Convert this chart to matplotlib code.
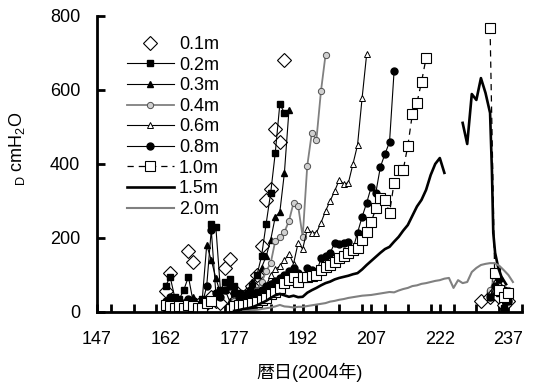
import numpy as np
import matplotlib
matplotlib.use('Agg')
import matplotlib.pyplot as plt
from matplotlib.ticker import MultipleLocator

nan = np.nan

# ---- data (day of year 2004, soil water potential cmH2O) ----
d_01 = [162, 163, 164, 165, 166, 167, 168, 169, 170, 172, 173, 174, 175, 176, 177, 178, 179, 180,
        181, 182, 183, 184, 185, 186, 187, 188, 231, 233, 234, 235, 236, 237]
v_01 = [57, 105, 30, 25, 15, 165, 135, 20, 10, 40, 30, 25, 119, 143, 60, 40, 30, 50,
        70, 100, 178, 303, 332, 495, 460, 681, 30, 40, 55, 40, 20, 30]

d_02 = [162, 163, 164, 165, 166, 167, 168, 169, 170, 171, 172, 173, 174, 175, 176, 177, 178, 179,
        180, 181, 182, 183, 184, 185, 186, 187, 188, 189, 233, 234, 235, 236, 237]
v_02 = [70, 95, 40, 35, 60, 95, 30, 20, 35, nan, 238, 230, 60, 80, 90, 70, 50, 40,
        50, 70, 100, 151, 238, 322, 430, 562, 538, nan, 50, 80, 60, 10, 30]

d_03 = [162, 163, 164, 165, 166, 167, 168, 169, 170, 171, 172, 173, 174, 175, 176, 177, 178, 179,
        180, 181, 182, 183, 184, 185, 186, 187, 188, 189, 190, 233, 234, 235, 236, 237]
v_03 = [20, 25, 15, 20, 10, 30, 40, 15, 30, 181, 140, 92, 50, 60, 30, 50, 40, 50,
        60, 80, 100, 120, 150, 195, 257, 270, 376, 546, nan, 40, 70, 50, 20, 40]

d_04 = [162, 163, 164, 165, 166, 167, 168, 169, 170, 171] + list(range(177, 199)) + [233, 234, 235, 236, 237]
v_04 = [15, 20, 10, 15, 10, 20, 15, 10, 15, nan,
        30, 35, 40, 45, 50, 60, 80, 110, 132, 192, 203, 216, 246, 295, 287, 203, 395, 484, 465, 597, 695, nan,
        60, 90, 70, 50, 60]

d_06 = [162, 163, 164, 165, 166, 167, 168, 169, 170, 171] + list(range(177, 208)) + [233, 234, 235, 236, 237]
v_06 = [10, 15, 10, 12, 8, 15, 20, 10, 12, nan,
        20, 25, 30, 35, 40, 50, 60, 70, 100, 115, 124, 140, 157, 130, 187, 170, 224, 214, 214, 241,
        273, 300, 327, 357, 346, 349, 400, 451, 578, 697, nan,
        50, 80, 60, 40, 50]

d_08 = list(range(162, 214)) + [233, 234, 235, 236, 237]
v_08 = [30, 40, 30, 25, 20, 35, 30, 15, 20, 70, 222, 50, 40, 60, 70, 50, 40,
        40, 45, 50, 55, 60, 70, 75, 85, 92, 100, 110, 119, 105, 95, 119, 114, 105, 146, 151, 159,
        187, 184, 187, 189, 170, 214, 257, 295, 338, 322, 392, 427, 459, 651, nan,
        40, 70, 90, 60, 30]

d_10 = list(range(162, 174)) + list(range(177, 221)) + [233, 234, 235, 236, 237]
v_10 = [20, 15, 12, 15, 10, 18, 15, 10, 12, 25, 30, nan,
        15, 18, 20, 22, 25, 28, 32, 38, 49, 54, 65, 78, 86, 95, 81, 95, 95, 98, 100, 114,
        122, 127, 135, 146, 151, 159, 168, 173, 195, 216, 243, 280, 308, 303, 268, 349, 384, 384,
        449, 535, 565, 622, 686, nan,
        768, 105, 60, 40, 50]

d_15 = list(range(177, 224)) + [224, 227, 228, 229, 230, 231, 232, 233, 233.4, 233.7, 234.1, 234.8, 235.5, 236.5]
v_15 = [3, 5, 8, 10, 13, 18, 24, 30, 38, 45, 49, 45, 41, 44, 40, 41, 52, 59, 65, 72,
        78, 82, 88, 92, 95, 98, 102, 105, 115, 127, 138, 149, 160, 170, 176, 190, 203, 220, 235, 260,
        285, 303, 330, 370, 400, 416, 376, nan,
        511, 454, 589, 573, 632, 592, 538, 384, 214, 160, 119, 95, 75]

d_20 = list(range(179, 239))
v_20 = [2, 3, 5, 6, 8, 10, 12, 15, 19, 15, 14, 12, 14, 14, 16, 18, 20, 22, 24, 28,
        30, 33, 35, 38, 40, 42, 44, 45, 46, 48, 50, 52, 54, 53, 58, 62, 65, 70, 72, 76,
        78, 81, 84, 86, 90, 92, 65, 86, 78, 81, 108, 119, 127, 130, 132, 132, 125, 113, 100, 81]

labels = ['0.1m', '0.2m', '0.3m', '0.4m', '0.6m', '0.8m', '1.0m', '1.5m', '2.0m']
x_ticks = [147, 162, 177, 192, 207, 222, 237]
y_ticks = [0, 200, 400, 600, 800]

plt.rcParams['font.family'] = ['Liberation Sans', 'Noto Sans CJK JP']
plt.rcParams['mathtext.default'] = 'regular'

grey = '#808080'
fig = plt.figure(figsize=(5.36, 3.89), dpi=100)
ax = fig.add_axes([0.181, 0.198, 0.793, 0.761])

ax.plot(d_01, v_01, ls='none', marker='D', ms=7, mfc='white', mec='black', mew=0.8, label=labels[0])
ax.plot(d_02, v_02, color='black', lw=0.8, marker='s', ms=4.5, mfc='black', mec='black', label=labels[1])
ax.plot(d_03, v_03, color='black', lw=0.8, marker='^', ms=5, mfc='black', mec='black', label=labels[2])
ax.plot(d_04, v_04, color=grey, lw=1.3, marker='o', ms=4.5, mfc='#d0d0d0', mec='#505050', mew=0.7, label=labels[3])
ax.plot(d_06, v_06, color='black', lw=0.8, marker='^', ms=5, mfc='white', mec='black', mew=0.7, label=labels[4])
ax.plot(d_08, v_08, color='black', lw=0.8, marker='o', ms=5, mfc='black', mec='black', label=labels[5])
ax.plot(d_10, v_10, color='black', lw=0.9, ls=(0, (5, 4)), marker='s', ms=7.5, mfc='white', mec='black', mew=0.8, label=labels[6])
ax.plot(d_15, v_15, color='black', lw=1.9, label=labels[7])
ax.plot(d_20, v_20, color=grey, lw=1.5, label=labels[8])

ax.set_xlim(147, 240)
ax.set_ylim(0, 800)
ax.xaxis.set_major_locator(MultipleLocator(15))
ax.xaxis.set_minor_locator(MultipleLocator(5))
ax.set_xticks(x_ticks)
ax.set_yticks(y_ticks)
ax.tick_params(axis='both', which='both', direction='in', length=6, width=2, labelsize=13)
ax.tick_params(axis='x', which='both', pad=14)
ax.tick_params(axis='y', pad=12)

for side in ['top', 'right']:
    ax.spines[side].set_visible(False)
for side in ['left', 'bottom']:
    ax.spines[side].set_linewidth(2)

ax.set_xlabel('暦日(2004年)', fontsize=13, labelpad=10)
ax.set_ylabel(r'$_{D}$ cmH$_2$O', fontsize=13)
ax.yaxis.set_label_coords(-0.165, 0.55)

ax.legend(loc='upper left', bbox_to_anchor=(0.04, 0.975), frameon=False, fontsize=13,
          handlelength=2.6, handletextpad=0.3, labelspacing=0.2, borderpad=0.2)

fig.savefig('out.png', dpi=100)
